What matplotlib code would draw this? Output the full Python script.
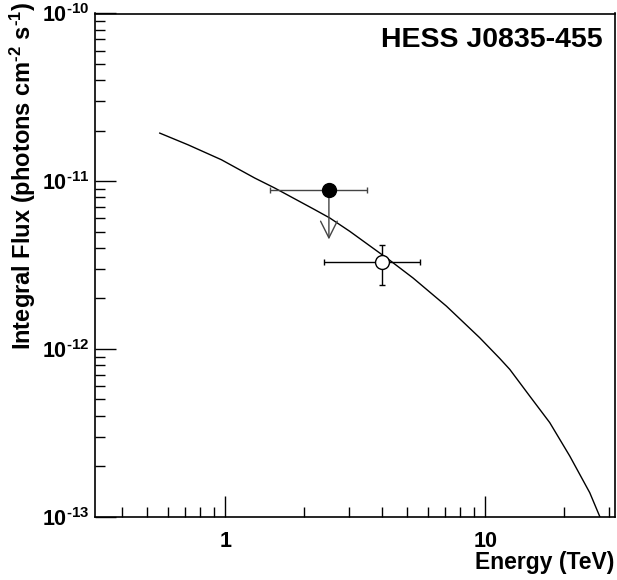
"""HESS J0835-455 integral flux plot."""

import matplotlib
matplotlib.use("Agg")
import matplotlib.pyplot as plt
from matplotlib.ticker import FixedLocator, NullFormatter

plt.rcParams["font.family"] = ["Liberation Sans", "DejaVu Sans"]
plt.rcParams["font.weight"] = "bold"
plt.rcParams["mathtext.fontset"] = "custom"
plt.rcParams["mathtext.rm"] = "Liberation Sans:bold"
plt.rcParams["mathtext.it"] = "Liberation Sans:bold"
plt.rcParams["mathtext.bf"] = "Liberation Sans:bold"
plt.rcParams["mathtext.default"] = "rm"

# model curve (integral flux)
curve_e = [0.559, 0.718, 0.965, 1.296, 1.547, 2.205, 2.519, 3.006, 4.284, 5.266,
           7.079, 9.508, 11.35, 12.41, 14.80, 17.67, 21.10, 25.19, 27.54]
curve_f = [1.936e-11, 1.649e-11, 1.343e-11, 1.045e-11, 9.11e-12, 6.77e-12, 6.04e-12,
           5.03e-12, 3.38e-12, 2.65e-12, 1.80e-12, 1.166e-12, 8.78e-13, 7.55e-13,
           5.24e-13, 3.64e-13, 2.30e-13, 1.39e-13, 1.0e-13]

# upper limit point (filled)
ul_e = 2.50
ul_e_lo, ul_e_hi = 1.49, 3.49
ul_f = 8.9e-12
ul_arrow_end = 4.5e-12

# measured point (open)
pt_e = 4.0
pt_e_lo, pt_e_hi = 2.39, 5.59
pt_f = 3.30e-12
pt_f_lo, pt_f_hi = 2.39e-12, 4.19e-12

y_major = [1e-13, 1e-12, 1e-11, 1e-10]
y_labels = [r"$10^{\text{-}13}$", r"$10^{\text{-}12}$", r"$10^{\text{-}11}$", r"$10^{\text{-}10}$"]
x_major = [1, 10]
x_labels = ["1", "10"]

fig = plt.figure(figsize=(6.17, 5.8), dpi=100)
ax = fig.add_axes([95 / 617, 63.3 / 580, 520 / 617, 503.2 / 580])
ax.set_xscale("log")
ax.set_yscale("log")
ax.set_xlim(0.315, 31.5)
ax.set_ylim(1e-13, 1e-10)

ax.plot(curve_e, curve_f, color="black", lw=1.0)

# upper limit
ax.errorbar([ul_e], [ul_f], xerr=[[ul_e - ul_e_lo], [ul_e_hi - ul_e]], fmt="none",
            ecolor="#444444", elinewidth=1.0, capsize=2.5, capthick=1.0)
ax.annotate("", xy=(ul_e, ul_arrow_end), xytext=(ul_e, ul_f),
            arrowprops=dict(arrowstyle="->,head_length=1.2,head_width=0.6",
                            color="#444444", lw=1.0, shrinkA=0, shrinkB=0))
ax.plot([ul_e], [ul_f], "o", color="black", ms=10, zorder=5)

# measured point
ax.errorbar([pt_e], [pt_f], xerr=[[pt_e - pt_e_lo], [pt_e_hi - pt_e]],
            yerr=[[pt_f - pt_f_lo], [pt_f_hi - pt_f]], fmt="none",
            ecolor="black", elinewidth=1.0, capsize=2.5, capthick=1.0)
ax.plot([pt_e], [pt_f], "o", mfc="white", mec="black", mew=1.0, ms=10, zorder=5)

# ticks, ROOT style
ax.xaxis.set_major_locator(FixedLocator(x_major))
ax.set_xticklabels(x_labels)
x_minor = [v * d for d in (0.1, 1, 10) for v in range(2, 10) if 0.315 < v * d < 31.5]
ax.xaxis.set_minor_locator(FixedLocator(x_minor))
ax.xaxis.set_minor_formatter(NullFormatter())
ax.yaxis.set_major_locator(FixedLocator(y_major))
ax.set_yticklabels(y_labels)
y_minor = [v * d for d in (1e-13, 1e-12, 1e-11) for v in range(2, 10)]
ax.yaxis.set_minor_locator(FixedLocator(y_minor))
ax.yaxis.set_minor_formatter(NullFormatter())
ax.tick_params(which="both", direction="in", top=False, right=False, width=1.0)
ax.tick_params(which="major", length=15)
ax.tick_params(which="minor", length=7)
ax.tick_params(axis="x", labelsize=15.5, pad=10)
ax.tick_params(axis="y", labelsize=15.5, pad=4)
for s in ax.spines.values():
    s.set_linewidth(1.2)

ax.text(0.977, 0.947, "HESS J0835-455", transform=ax.transAxes, ha="right",
        va="center", fontsize=20.5, fontweight="bold")
fig.text(23 / 617, 1 - 2 / 580,
         r"Integral Flux (photons cm$^{\text{-}2}$ s$^{\text{-}1}$)",
         rotation=90, ha="center", va="top", fontsize=17, fontweight="bold")
fig.text(614 / 617, 1 - 563 / 580, "Energy (TeV)", ha="right", va="center",
         fontsize=16.5, fontweight="bold")

fig.savefig("out.png", dpi=100)
plt.close(fig)
